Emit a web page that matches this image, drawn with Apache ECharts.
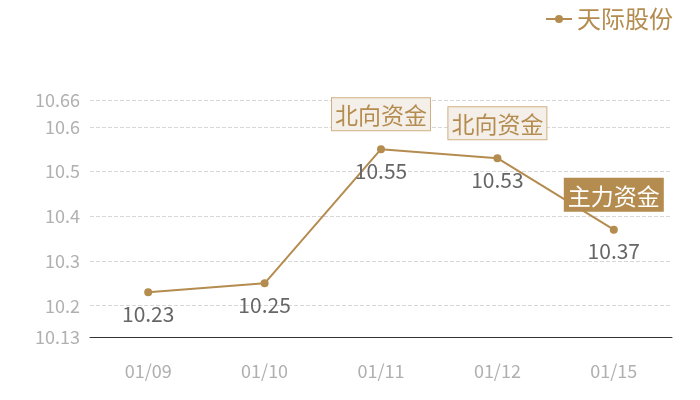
<!DOCTYPE html>
<html>
<head>
<meta charset="utf-8">
<script src="https://cdn.jsdelivr.net/npm/echarts@6/dist/echarts.min.js"></script>
<style>
  html, body { margin: 0; padding: 0; background: #fff; }
  #container { width: 700px; height: 400px; }
</style>
</head>
<body>
<div id="container"></div>
<script>
var dates = ['01/09', '01/10', '01/11', '01/12', '01/15'];
var prices = [10.23, 10.25, 10.55, 10.53, 10.37];
var seriesName = '天际股份';
var flagDates = ['01/11', '01/12', '01/15'];
var flagValues = [10.55, 10.53, 10.37];
var flagTexts = ['北向资金', '北向资金', '主力资金'];

window.onload = function() {

var chartDom = document.getElementById('container');
var myChart = echarts.init(chartDom);
var option;

var gold = '#b58c4f';
var font = '"Noto Sans CJK SC", "Noto Sans", sans-serif';

var flags = flagTexts.map(function (t, i) {
  var solid = t === '主力资金';
  return {
    name: t,
    coord: [flagDates[i], flagValues[i]],
    label: {
      show: true,
      position: 'top',
      distance: 19,
      formatter: t,
      fontSize: 23,
      fontFamily: font,
      color: solid ? '#fff' : gold,
      backgroundColor: solid ? gold : '#f4efe9',
      borderColor: solid ? gold : '#cfb081',
      borderWidth: 1,
      padding: [6, 3, 3, 3]
    }
  };
});

option = {
  textStyle: { fontFamily: font },
  legend: {
    right: 22,
    top: 2,
    itemWidth: 26,
    itemHeight: 10,
    itemGap: 6,
    textStyle: { color: gold, fontSize: 24, fontFamily: font },
    data: [seriesName]
  },
  grid: {
    left: 90,
    right: 28,
    top: 100,
    bottom: 63
  },
  xAxis: {
    type: 'category',
    data: dates,
    axisLine: { lineStyle: { color: '#333' } },
    axisTick: { show: false },
    axisLabel: { color: '#b0b0b0', fontSize: 18, margin: 25 }
  },
  yAxis: {
    type: 'value',
    min: 10.13,
    max: 10.66,
    splitNumber: 5,
    axisLine: { show: false },
    axisTick: { show: false },
    axisLabel: { color: '#b0b0b0', fontSize: 18, margin: 10 },
    splitLine: { lineStyle: { color: '#d8d8d8', type: 'dashed' } }
  },
  series: [
    {
      name: seriesName,
      type: 'line',
      data: prices,
      symbol: 'circle',
      symbolSize: 8,
      color: gold,
      lineStyle: { color: gold, width: 2 },
      itemStyle: { color: gold },
      label: {
        show: true,
        position: 'bottom',
        distance: 7,
        color: '#666',
        fontSize: 21,
        fontFamily: font
      },
      markPoint: {
        symbol: 'circle',
        symbolSize: 0,
        data: flags
      }
    }
  ]
};

option && myChart.setOption(option);

}
</script>
</body>
</html>
